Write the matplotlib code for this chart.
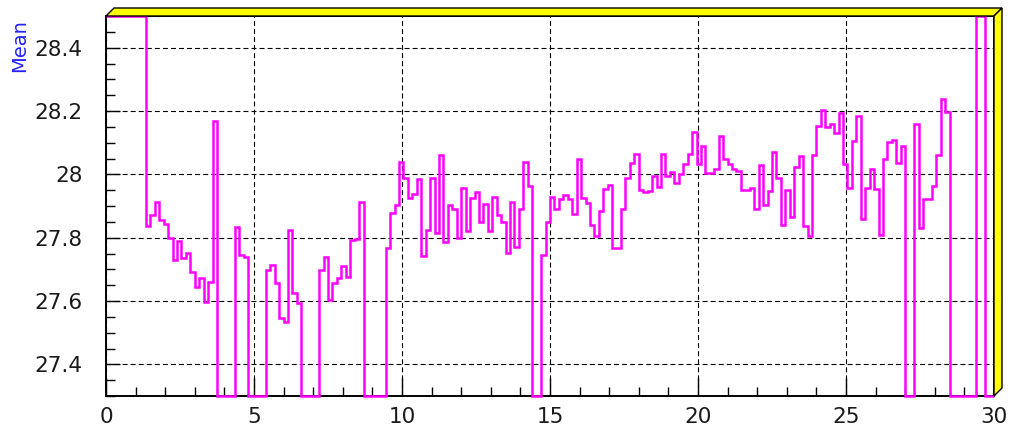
import numpy as np
import matplotlib
matplotlib.use("Agg")
import matplotlib.pyplot as plt
from matplotlib.patches import Polygon
from matplotlib.ticker import MultipleLocator, FixedLocator

plt.rcParams['font.family'] = ['DejaVu Sans']
plt.rcParams['lines.scale_dashes'] = False

# profile: 200 bins from 0 to 30, mean value per bin
# (0 = empty bin, 28.6 = above the drawn range)
n_bins = 200
x_min, x_max = 0.0, 30.0
y_min, y_max = 27.3, 28.5

mean = [
    28.6, 28.6, 28.6, 28.6, 28.6, 28.6, 28.6, 28.6, 28.6,
    27.836, 27.873, 27.913, 27.857, 27.843, 27.798, 27.730, 27.788,
    27.735, 27.753, 27.693, 27.645, 27.674, 27.597, 27.661, 28.167,
    0, 0, 0, 0,
    27.834, 27.746, 27.739,
    0, 0, 0, 0,
    27.698, 27.714, 27.658, 27.545, 27.534, 27.825, 27.626, 27.593,
    0, 0, 0, 0,
    27.698, 27.739, 27.603, 27.658, 27.674, 27.709, 27.677, 27.794,
    27.797, 27.913,
    0, 0, 0, 0, 0,
    27.767, 27.878, 27.903, 28.039, 27.989, 27.926, 27.939, 27.984,
    27.741, 27.825, 27.990, 27.816, 28.060, 27.786, 27.903, 27.892,
    27.799, 27.958, 27.822, 27.924, 27.944, 27.850, 27.905, 27.822,
    27.929, 27.873, 27.850, 27.751, 27.912, 27.769, 27.892, 28.039,
    27.963,
    0, 0,
    27.746, 27.850, 27.929, 27.891, 27.921, 27.934, 27.921, 27.875,
    28.048, 27.924, 27.910, 27.841, 27.804, 27.884, 27.955, 27.966,
    27.767, 27.767, 27.891, 27.989, 28.035, 28.063, 27.952, 27.944,
    27.947, 27.995, 27.960, 28.063, 27.995, 28.007, 27.974, 28.000,
    28.034, 28.063, 28.134, 28.034, 28.090, 28.005, 28.005, 28.016,
    28.122, 28.048, 28.032, 28.016, 28.011, 27.950, 27.950, 27.958,
    27.891, 28.030, 27.902, 27.947, 28.069, 27.989, 27.839, 27.952,
    27.865, 28.024, 28.058, 27.836, 27.804, 28.060, 28.153, 28.203,
    28.148, 28.159, 28.130, 28.193, 28.034, 27.956, 28.106, 28.183,
    27.859, 27.956, 28.018, 27.955, 27.810, 28.048, 28.103, 28.109,
    28.035, 28.088,
    0, 0,
    28.159, 27.831, 27.921, 27.923, 27.963, 28.060, 28.238, 28.198,
    0, 0, 0, 0, 0, 0,
    28.6, 28.6,
    0, 0,
]

x_ticks = [0, 5, 10, 15, 20, 25, 30]
y_ticks = [27.4, 27.6, 27.8, 28.0, 28.2, 28.4]
y_title = "Mean"

edges = np.linspace(x_min, x_max, n_bins + 1)
shown = np.clip(np.array(mean), y_min, y_max)  # ROOT draws out-of-range bins on the frame

fig = plt.figure(figsize=(10.13, 4.30), dpi=100)
ax = fig.add_axes([106 / 1013, 1 - 396 / 430, 888 / 1013, 380 / 430])

ax.grid(True, which='major', color='black', linewidth=0.8, linestyle=(0, (3.6, 2.2)))
ax.set_axisbelow(True)

ax.stairs(shown, edges, baseline=None, color='#ff00ff', linewidth=1.8,
          clip_on=False, zorder=3)

ax.set_xlim(x_min, x_max)
ax.set_ylim(y_min, y_max)
ax.xaxis.set_major_locator(FixedLocator(x_ticks))
ax.xaxis.set_minor_locator(MultipleLocator(1))
ax.yaxis.set_major_locator(FixedLocator(y_ticks))
ax.yaxis.set_minor_locator(MultipleLocator(0.05))
ax.set_yticklabels(['%g' % v for v in y_ticks])

ax.tick_params(axis='both', which='both', direction='in', color='black', width=1,
               labelsize=15.5, labelcolor='#1a1a1a')
ax.tick_params(axis='x', which='major', length=13, pad=8)
ax.tick_params(axis='y', which='major', length=10, pad=17)
ax.tick_params(axis='both', which='minor', length=6.5)

for s in ax.spines.values():
    s.set_linewidth(1.4)
    s.set_color('black')

# 3D frame border (yellow bevel on top and right)
dx, dy = 8 / 888, 8 / 380
top = Polygon([(0, 1), (dx, 1 + dy), (1 + dx, 1 + dy), (1, 1)], closed=True,
              facecolor='#ffff00', edgecolor='black', linewidth=1,
              transform=ax.transAxes, clip_on=False, zorder=4)
right = Polygon([(1, 1), (1 + dx, 1 + dy), (1 + dx, dy), (1, 0)], closed=True,
                facecolor='#ffff00', edgecolor='black', linewidth=1,
                transform=ax.transAxes, clip_on=False, zorder=4)
ax.add_patch(top)
ax.add_patch(right)

fig.text(20 / 1013, 1 - 46 / 430, y_title, rotation=90, color='#2222ff',
         fontsize=14, ha='center', va='center')

fig.savefig('out.png', dpi=100)
